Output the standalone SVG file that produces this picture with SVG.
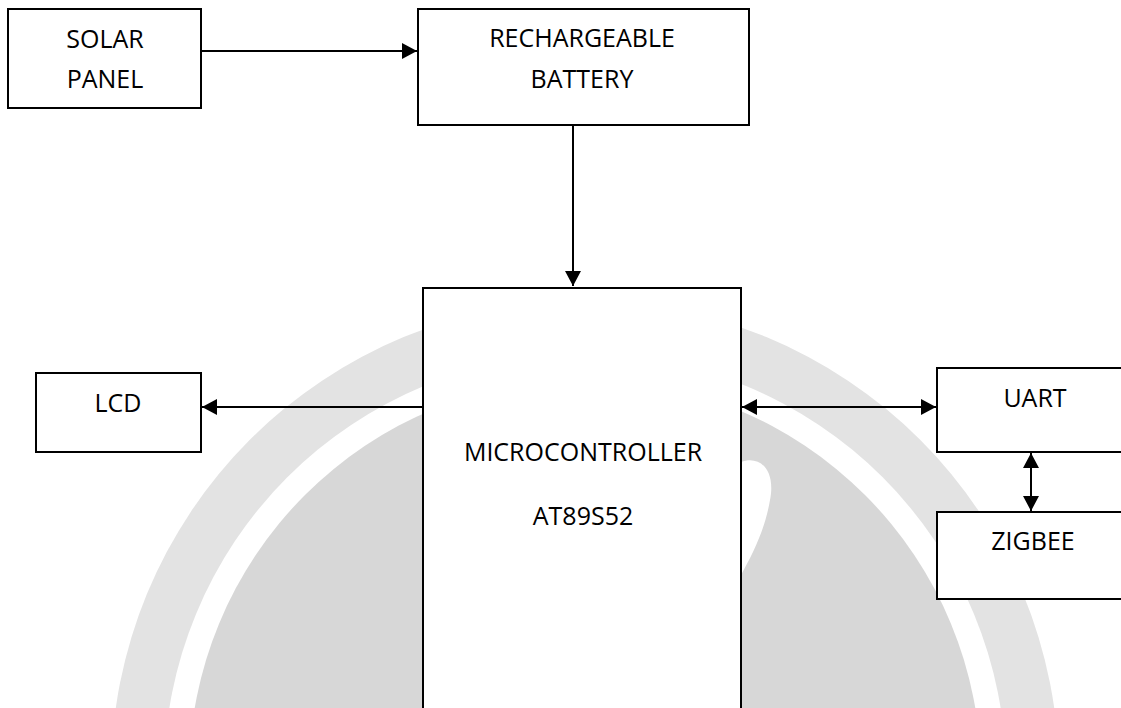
<svg xmlns="http://www.w3.org/2000/svg" width="1121" height="708" viewBox="0 0 1121 708">
  <style>
    .box { fill: #ffffff; stroke: #000000; stroke-width: 2; }
    .lbl { font-family: "Open Sans", "Liberation Sans", sans-serif; font-size: 25px; fill: #000000; text-anchor: middle; }
    .conn { stroke: #000000; stroke-width: 2; fill: none; }
  </style>
  <defs>
    <marker id="ah" markerUnits="userSpaceOnUse" markerWidth="16" markerHeight="16" refX="15" refY="8" orient="auto-start-reverse">
      <path d="M0,0 L15,8 L0,16 Z" fill="#000000"/>
    </marker>
  </defs>
  <rect width="1121" height="708" fill="#ffffff"/>

  <g id="watermark">
    <circle cx="585" cy="775" r="474" fill="#e3e3e3"/>
    <circle cx="585" cy="775" r="421" fill="#ffffff"/>
    <circle cx="585" cy="775" r="396" fill="#d7d7d7"/>
    <path d="M741,462 C760,455 776,470 770,500 C765,530 752,555 741,575 Z" fill="#ffffff"/>
  </g>

  <g id="connectors">
    <line class="conn" x1="201" y1="51" x2="417" y2="51" marker-end="url(#ah)"/>
    <line class="conn" x1="573" y1="125" x2="573" y2="286" marker-end="url(#ah)"/>
    <line class="conn" x1="425" y1="407" x2="202" y2="407" marker-end="url(#ah)"/>
    <line class="conn" x1="742" y1="407" x2="936" y2="407" marker-start="url(#ah)" marker-end="url(#ah)"/>
    <line class="conn" x1="1031" y1="453" x2="1031" y2="511" marker-start="url(#ah)" marker-end="url(#ah)"/>
  </g>

  <g id="solar">
    <rect class="box" x="8" y="9" width="193" height="99"/>
    <text class="lbl" x="105" y="48">SOLAR</text>
    <text class="lbl" x="105" y="88">PANEL</text>
  </g>
  <g id="battery">
    <rect class="box" x="418" y="9" width="331" height="116"/>
    <text class="lbl" x="582" y="47">RECHARGEABLE</text>
    <text class="lbl" x="582" y="88">BATTERY</text>
  </g>
  <g id="micro">
    <rect class="box" x="423" y="288" width="318" height="440"/>
    <text class="lbl" x="583" y="461">MICROCONTROLLER</text>
    <text class="lbl" x="583" y="525">AT89S52</text>
  </g>
  <g id="lcd">
    <rect class="box" x="36" y="373" width="165" height="79"/>
    <text class="lbl" x="118" y="412">LCD</text>
  </g>
  <g id="uart">
    <rect class="box" x="937" y="368" width="200" height="84"/>
    <text class="lbl" x="1035" y="407">UART</text>
  </g>
  <g id="zigbee">
    <rect class="box" x="937" y="512" width="200" height="87"/>
    <text class="lbl" x="1033" y="550">ZIGBEE</text>
  </g>
</svg>
